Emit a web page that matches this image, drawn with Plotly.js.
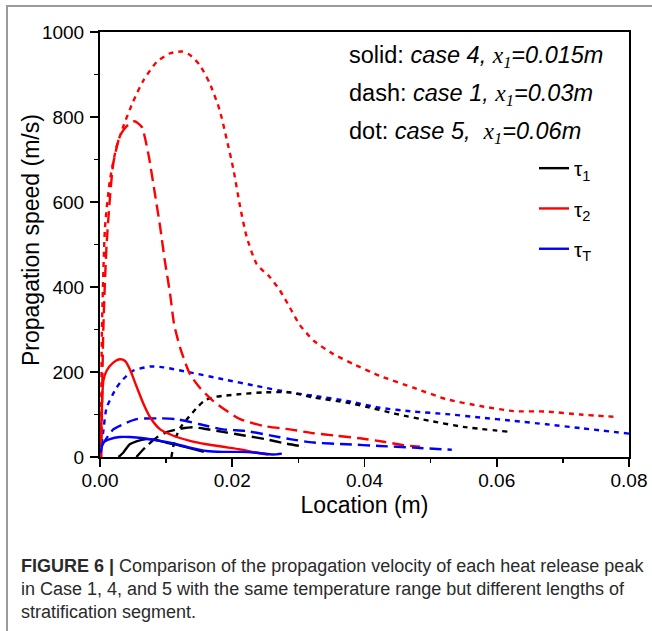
<!DOCTYPE html>
<html>
<head>
<meta charset="utf-8">
<script src="https://cdn.plot.ly/plotly-3.0.1.min.js"></script>
<style>
html,body{margin:0;padding:0;background:#fff;}
#wrap{position:relative;width:652px;height:631px;overflow:hidden;}
#chart{position:absolute;left:0;top:0;width:652px;height:631px;}
#frame{position:absolute;left:6px;top:5px;width:660px;height:640px;border-left:2px solid #9a9a9a;border-top:2px solid #9a9a9a;pointer-events:none;}
</style>
</head>
<body>
<div id="wrap"><div id="chart"></div><div id="frame"></div></div>
<script>
// ---- Case 4 (solid, x1 = 0.015 m) ----
const c4_tau1_x = [0.0028,0.0035,0.0045,0.0055,0.007,0.0085,0.010,0.012,0.014,0.0157];
const c4_tau1_y = [0,10,30,37,42,40,34,27,19,12];
const c4_tau2_x = [0.0001,0.0003,0.0005,0.001,0.002,0.003,0.0038,0.0045,0.0055,0.0066,0.0076,0.0091,0.0111,0.0136,0.0161,0.0186,0.0212,0.0237,0.0255];
const c4_tau2_y = [30,124,179,203,222,230,226,207,167,124,93,65,50,38,30,24,18,10,6];
const c4_tauT_x = [0.0001,0.0005,0.0015,0.003,0.0045,0.0066,0.0086,0.0111,0.0136,0.0161,0.0186,0.0212,0.0237,0.0262,0.0275];
const c4_tauT_y = [10,34,42,47,47,44,39,32,22,14,12,12,10,6,8];
// ---- Case 1 (dash, x1 = 0.03 m) ----
const c1_tau1_x = [0.0055,0.007,0.0085,0.010,0.012,0.014,0.016,0.019,0.022,0.025,0.028,0.031];
const c1_tau1_y = [0,25,45,58,66,70,66,58,50,42,32,24];
const c1_tau2_x = [0.0002,0.0005,0.001,0.002,0.003,0.004,0.0052,0.0063,0.0073,0.0083,0.0091,0.0098,0.0106,0.0112,0.0121,0.0136,0.0151,0.0171,0.0192,0.0212,0.0247,0.0287,0.0323,0.0358,0.0393,0.0429,0.0459,0.0484];
const c1_tau2_y = [0,300,500,690,755,778,790,777,714,620,541,462,384,313,258,195,163,132,108,89,73,65,56,50,44,36,28,24];
const c1_tauT_x = [0.0002,0.002,0.0035,0.0055,0.0086,0.0116,0.0151,0.0186,0.0222,0.0257,0.0287,0.0323,0.0373,0.0423,0.0474,0.0532];
const c1_tauT_y = [25,65,77,89,91,89,77,65,61,51,42,34,30,26,22,17];
// ---- Case 5 (dot, x1 = 0.06 m) ----
const c5_tau1_x = [0.0108,0.0113,0.0122,0.0131,0.0149,0.0159,0.0176,0.0186,0.0212,0.0247,0.0287,0.0323,0.0373,0.0403,0.0449,0.0499,0.0549,0.062];
const c5_tau1_y = [0,40,70,88,120,134,142,144,148,152,152,140,128,118,101,85,71,59];
const c5_tau2_x = [0.0001,0.0002,0.0003,0.00076,0.0015,0.0025,0.0035,0.005,0.0066,0.0086,0.0106,0.0124,0.0136,0.0151,0.0166,0.0181,0.0192,0.0202,0.0212,0.0222,0.0237,0.0257,0.0272,0.0287,0.0302,0.0323,0.0353,0.0383,0.0423,0.0474,0.0524,0.0575,0.0625,0.0675,0.0726,0.0784];
const c5_tau2_y = [0,150,305,541,651,730,777,836,887,930,950,954,946,922,879,816,745,675,588,517,454,423,392,352,311,274,242,219,191,163,136,120,108,107,100,94];
const c5_tauT_x = [0.0002,0.0005,0.001,0.0025,0.0035,0.005,0.0076,0.0096,0.0136,0.0186,0.0237,0.0287,0.0323,0.0373,0.0423,0.0474,0.0524,0.0575,0.0625,0.0675,0.0726,0.08];
const c5_tauT_y = [30,61,116,163,183,203,213,211,199,183,167,152,144,132,116,107,101,93,85,77,68,55];

const xTickVals = [0, 0.02, 0.04, 0.06, 0.08];
const xTickText = ['0.00','0.02','0.04','0.06','0.08'];
const yTickVals = [0,200,400,600,800,1000];
const yTickText = ['0','200','400','600','800','1000'];

const BLACK='#000000', RED='#ff0000', BLUE='#0000ff';
const DASH='12px,6px', DOT='5px,5px';
const LW=2.4;

function tr(x,y,color,dash,name,show,group){
  return {x:x,y:y,type:'scatter',mode:'lines',line:{color:color,width:LW,dash:dash,shape:'spline',smoothing:0.6},
    name:name,showlegend:show,legendgroup:group,hoverinfo:'skip'};
}
const data = [
  tr(c5_tau2_x,c5_tau2_y,RED,DOT,'',false,'g2'),
  tr(c5_tauT_x,c5_tauT_y,BLUE,DOT,'',false,'g3'),
  tr(c5_tau1_x,c5_tau1_y,BLACK,DOT,'',false,'g1'),
  tr(c1_tau2_x,c1_tau2_y,RED,DASH,'',false,'g2'),
  tr(c1_tauT_x,c1_tauT_y,BLUE,DASH,'',false,'g3'),
  tr(c1_tau1_x,c1_tau1_y,BLACK,DASH,'',false,'g1'),
  tr(c4_tau1_x,c4_tau1_y,BLACK,'solid','τ<sub>1</sub>',true,'g1'),
  tr(c4_tau2_x,c4_tau2_y,RED,'solid','τ<sub>2</sub>',true,'g2'),
  tr(c4_tauT_x,c4_tauT_y,BLUE,'solid','τ<sub>T</sub>',true,'g3')
];

const FONT='Liberation Sans, Arial, sans-serif';
const L=100, R=23, T=32, B=174;
const W=652, H=631;
const pw=W-L-R, ph=H-T-B;
function px2x(p){return (p-L)/pw;}
function py2y(p){return (H-B-p)/ph;}

const xs="<span style='font-family:Liberation Serif, Times New Roman, serif'><i>x</i><sub><i>1</i></sub></span>";
const annFont={family:FONT,size:23.5,color:'#000'};
const annotations=[
  {text:"solid: <i>case 4, </i>"+xs+"<i>=0.015m</i>", x:px2x(347), y:py2y(57)},
  {text:"dash: <i>case 1, </i>"+xs+"<i>=0.03m</i>", x:px2x(347), y:py2y(95)},
  {text:"dot: <i>case 5,  </i>"+xs+"<i>=0.06m</i>", x:px2x(347), y:py2y(133)}
].map(a=>Object.assign({xref:'paper',yref:'paper',xanchor:'left',yanchor:'middle',showarrow:false,font:annFont,align:'left'},a));

// y-axis title
annotations.push({text:'Propagation speed (m/s)',xref:'paper',yref:'paper',x:px2x(31),y:py2y(240),
  xanchor:'center',yanchor:'middle',textangle:-90,showarrow:false,font:{family:FONT,size:23,color:'#000'}});

const capFont={family:'Liberation Sans, Arial, sans-serif',size:18,color:'#2a2a2a'};
[
  ["<b>FIGURE 6 |</b> Comparison of the propagation velocity of each heat release peak",566],
  ["in Case 1, 4, and 5 with the same temperature range but different lengths of",589],
  ["stratification segment.",612]
].forEach(c=>annotations.push({text:c[0],xref:'paper',yref:'paper',x:px2x(19),y:py2y(c[1]),xanchor:'left',yanchor:'middle',showarrow:false,font:capFont,align:'left'}));

const layout={
  width:W,height:H,
  margin:{l:L,r:R,t:T,b:B,pad:0},
  paper_bgcolor:'#fff',plot_bgcolor:'#fff',
  font:{family:FONT,color:'#000'},
  xaxis:{range:[0,0.08],tickvals:xTickVals,ticktext:xTickText,showgrid:false,zeroline:false,
    showline:true,linecolor:'#000',linewidth:2,mirror:true,ticks:'outside',ticklen:8,tickwidth:1.6,tickcolor:'#000',
    minor:{dtick:0.01,ticks:'outside',ticklen:4,tickwidth:1.4,tickcolor:'#000'},
    tickfont:{family:FONT,size:19,color:'#000'},ticklabelstandoff:-3,
    title:{text:'Location (m)',font:{family:FONT,size:23,color:'#000'},standoff:7}},
  yaxis:{range:[0,1000],tickvals:yTickVals,ticktext:yTickText,showgrid:false,zeroline:false,
    showline:true,linecolor:'#000',linewidth:2,mirror:true,ticks:'outside',ticklen:8,tickwidth:1.6,tickcolor:'#000',
    minor:{dtick:100,ticks:'outside',ticklen:4,tickwidth:1.4,tickcolor:'#000'},
    tickfont:{family:FONT,size:19,color:'#000'},ticklabelstandoff:2},
  showlegend:true,
  legend:{x:px2x(534),y:py2y(148),xanchor:'left',yanchor:'top',bgcolor:'rgba(0,0,0,0)',borderwidth:0,
    font:{family:FONT,size:21,color:'#000'},traceorder:'grouped',tracegroupgap:10,itemwidth:30},
  annotations:annotations
};
Plotly.newPlot('chart',data,layout,{displayModeBar:false,staticPlot:true});
</script>
</body>
</html>
